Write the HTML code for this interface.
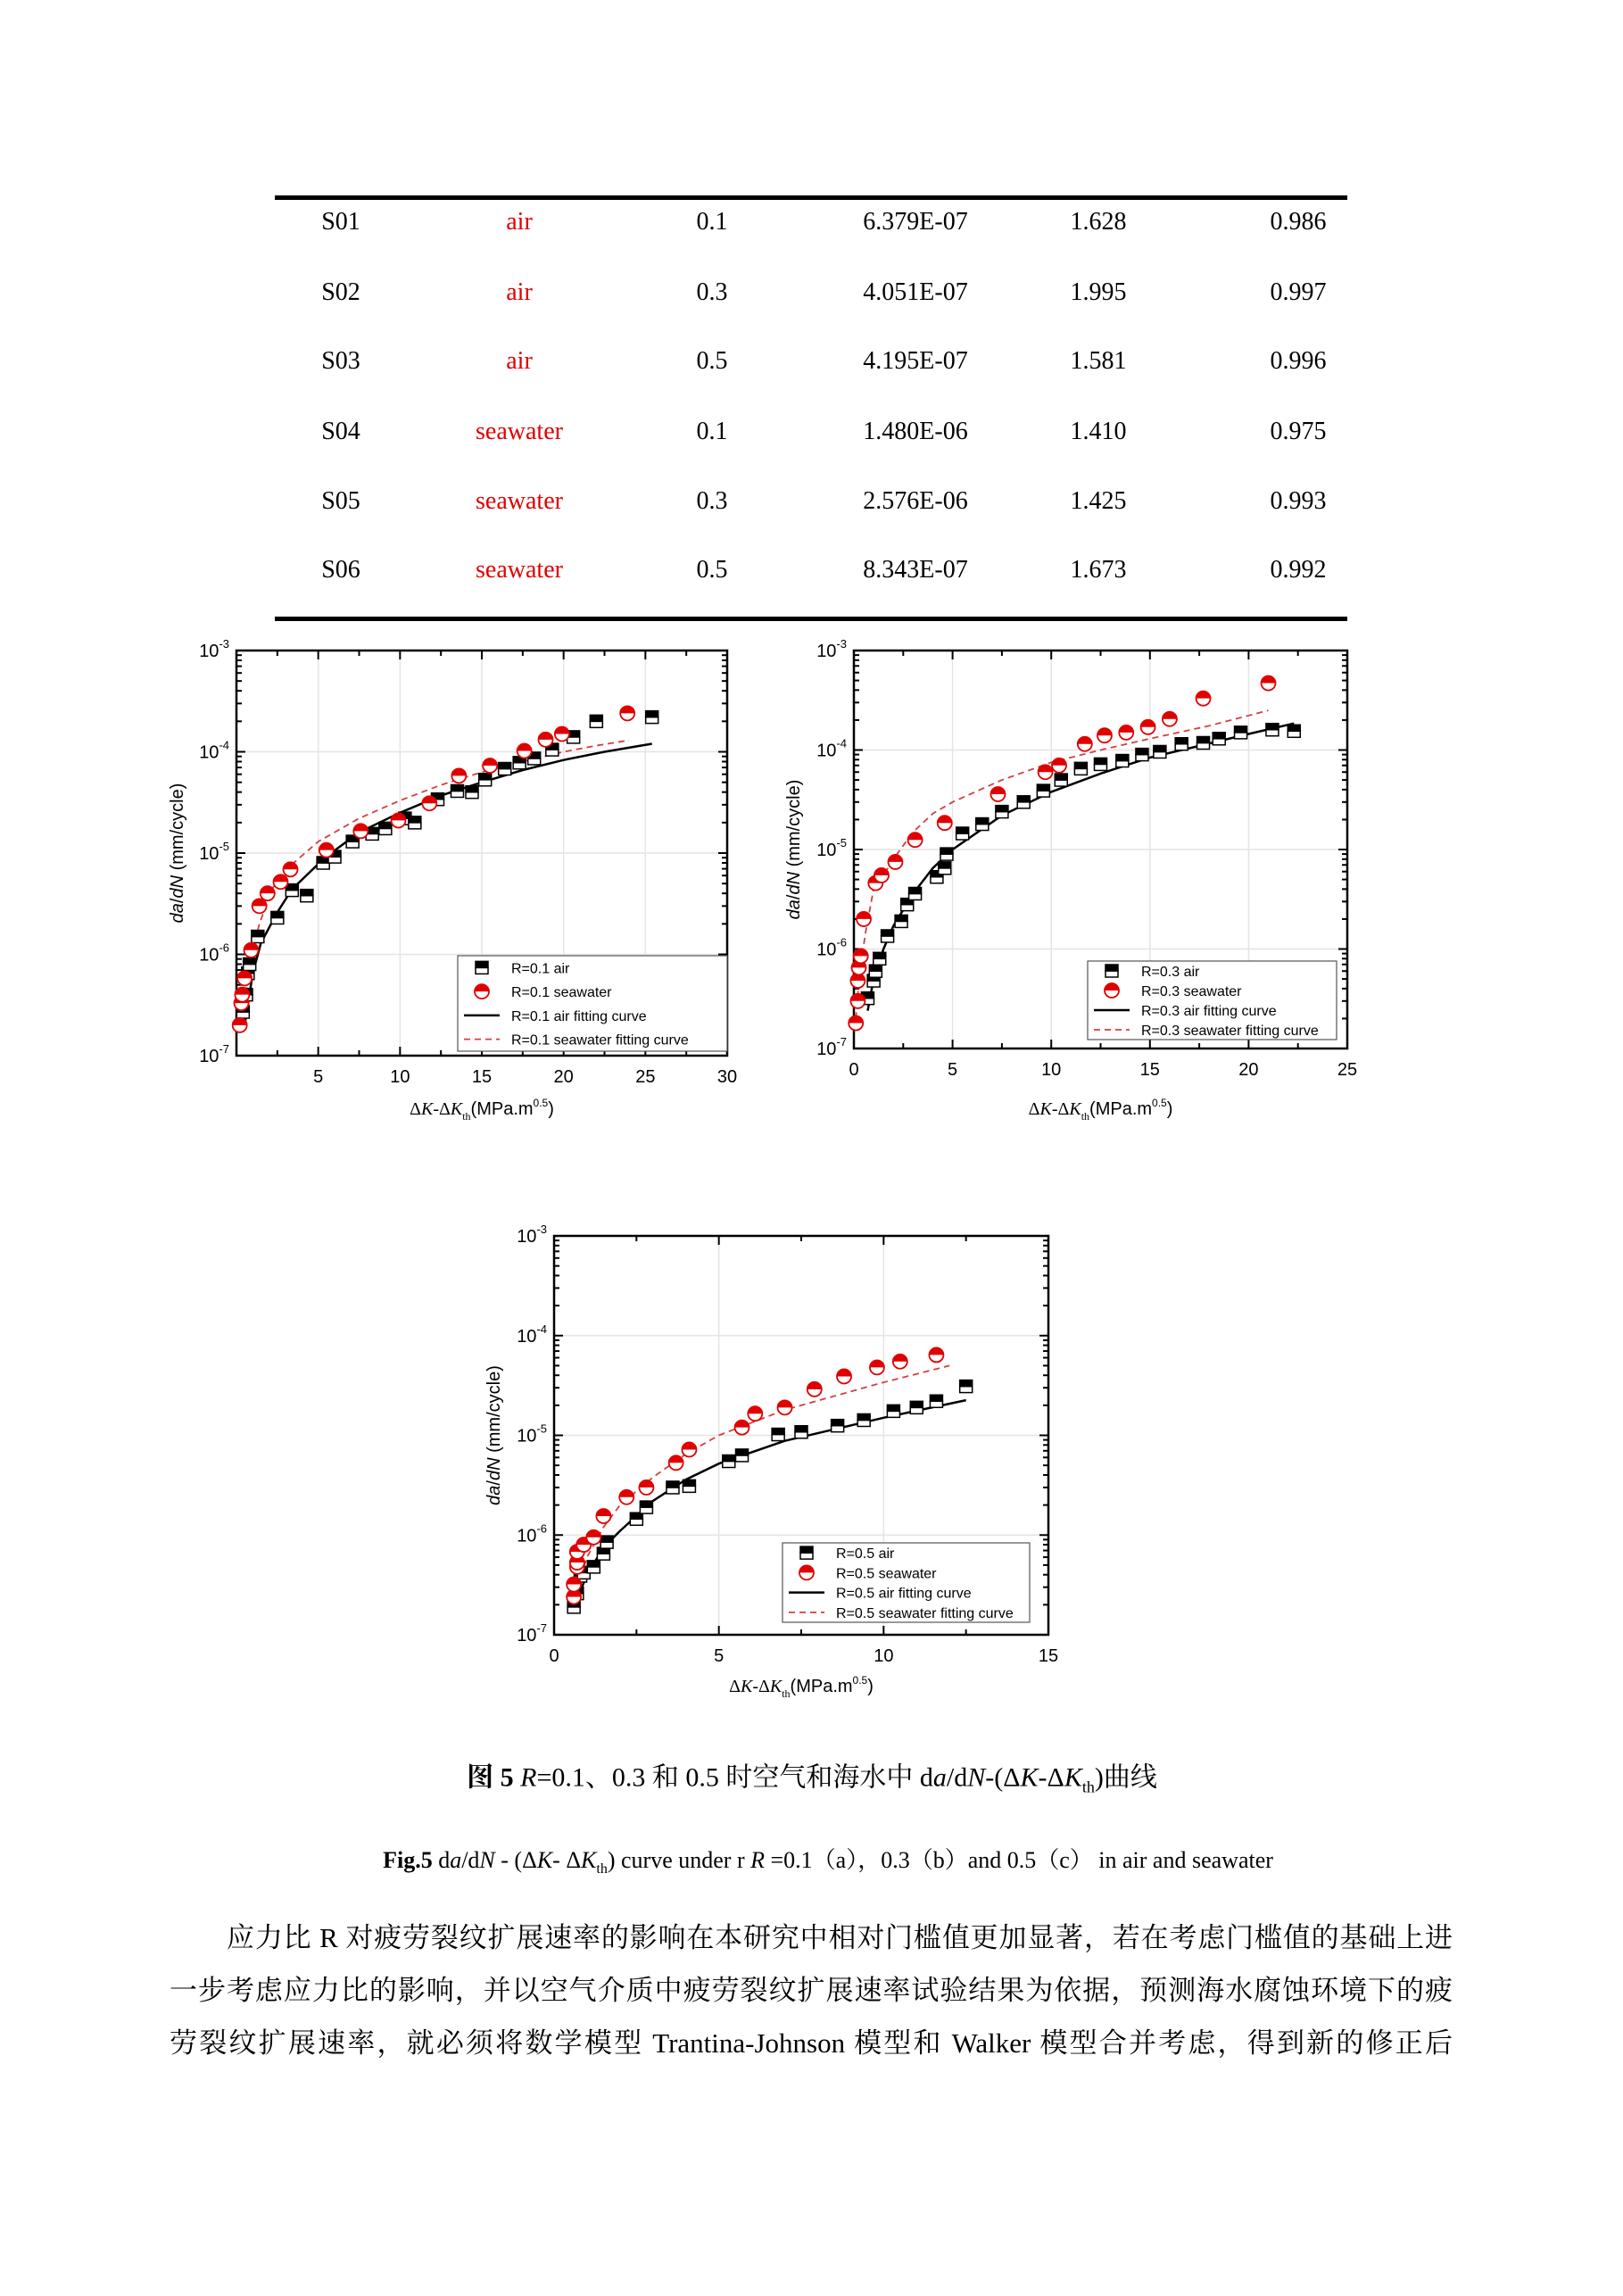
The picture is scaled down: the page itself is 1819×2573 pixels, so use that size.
<!DOCTYPE html>
<html><head><meta charset="utf-8">
<style>
body{margin:0;background:#fff;}
#page{position:relative;width:1819px;height:2573px;overflow:hidden;background:#fff;font-family:"Liberation Serif","Noto Serif CJK SC",serif;}
.t{position:absolute;font-size:28px;white-space:nowrap;transform:translate(-50%,-50%);}
.red{color:#e00000;}
.line{position:absolute;left:308px;width:1202px;height:5px;background:#000;}
.para{position:absolute;font-size:31px;white-space:nowrap;text-align:justify;text-align-last:justify;font-family:"Liberation Serif","Noto Serif CJK SC",serif;}
svg text{font-family:"Liberation Sans",sans-serif;}
</style></head><body>
<div id="page">
<div class="line" style="top:219px"></div>
<div class="line" style="top:691px"></div>
<div id="table"></div>

<svg id="charts" width="1819" height="2573" style="position:absolute;left:0;top:0"></svg>

<div class="t" style="left:910px;top:1990px;font-size:30px"><b>图 5</b> <i>R</i>=0.1、0.3 和 0.5 时空气和海水中 d<i>a</i>/d<i>N</i>-(Δ<i>K</i>-Δ<i>K</i><sub style="font-size:18px">th</sub>)曲线</div>
<div class="t" style="left:928px;top:2084px;font-size:26px"><b>Fig.5</b> d<i>a</i>/d<i>N</i> - (Δ<i>K</i>- Δ<i>K</i><sub style="font-size:16px">th</sub>) curve under r <i>R</i> =0.1（a），0.3（b）and 0.5（c） in air and seawater</div>
<div class="para" style="left:254px;top:2146px;width:1374px">应力比 R 对疲劳裂纹扩展速率的影响在本研究中相对门槛值更加显著，若在考虑门槛值的基础上进</div>
<div class="para" style="left:190px;top:2205px;width:1438px">一步考虑应力比的影响，并以空气介质中疲劳裂纹扩展速率试验结果为依据，预测海水腐蚀环境下的疲</div>
<div class="para" style="left:190px;top:2264px;width:1438px">劳裂纹扩展速率，就必须将数学模型 Trantina-Johnson 模型和 Walker 模型合并考虑，得到新的修正后</div>
</div>
<script>
// table
const rowsId=["S01","S02","S03","S04","S05","S06"];
const rowsMedium=["air","air","air","seawater","seawater","seawater"];
const rowsR=["0.1","0.3","0.5","0.1","0.3","0.5"];
const rowsC=["6.379E-07","4.051E-07","4.195E-07","1.480E-06","2.576E-06","8.343E-07"];
const rowsM=["1.628","1.995","1.581","1.410","1.425","1.673"];
const rowsR2=["0.986","0.997","0.996","0.975","0.993","0.992"];
(function(){
  const tb=document.getElementById('table');
  const ys=[249,328,405,484,562,639];
  const xs=[382,582,798,1026,1231,1455];
  const cols=[rowsId,rowsMedium,rowsR,rowsC,rowsM,rowsR2];
  const names=['specimen','medium','stress-ratio','coef-c','exponent-m','r-squared'];
  for(let i=0;i<6;i++)for(let c=0;c<6;c++){
    const d=document.createElement('div');d.className='t'+(c==1?' red':'');
    d.style.left=xs[c]+'px';d.style.top=ys[i]+'px';d.textContent=cols[c][i];
    
    
    tb.appendChild(d);
  }
})();

// chart a data
const aAirX=[0.4,0.6,0.7,0.8,1.3,2.5,3.4,4.3,5.3,6.0,7.1,8.3,9.1,10.3,10.9,12.3,13.5,14.4,15.2,16.4,17.3,18.2,19.3,20.6,22,25.4];
const aAirY=[2.7e-7,4e-7,6.5e-7,8e-7,1.5e-6,2.3e-6,4.3e-6,3.8e-6,8e-6,9.2e-6,1.3e-5,1.55e-5,1.75e-5,2.2e-5,2e-5,3.4e-5,4.1e-5,4e-5,5.3e-5,6.8e-5,7.8e-5,8.6e-5,1.05e-4,1.4e-4,2e-4,2.2e-4];
const aSeaX=[0.2,0.3,0.35,0.5,0.9,1.4,1.9,2.7,3.3,5.5,7.6,9.9,11.8,13.6,15.5,17.6,18.9,19.9,23.9];
const aSeaY=[2e-7,3.3e-7,4e-7,5.8e-7,1.1e-6,3e-6,4e-6,5.2e-6,6.9e-6,1.07e-5,1.65e-5,2.1e-5,3.1e-5,5.8e-5,7.3e-5,1.02e-4,1.32e-4,1.5e-4,2.4e-4];
const aFitAirX=[0.5,1,1.5,2.5,3.4,5.4,7.5,10,12.5,15,17.5,20,22.5,25.4];
const aFitAirY=[2e-7,6.5e-7,1.3e-6,2.6e-6,4.4e-6,9e-6,1.6e-5,2.5e-5,3.7e-5,5e-5,6.6e-5,8.3e-5,1e-4,1.2e-4];
const aFitSeaX=[0.3,0.8,1.4,2.2,3.3,5,7.5,10,12.5,15,17.5,20,22,24];
const aFitSeaY=[2e-7,8e-7,2e-6,4.5e-6,7.5e-6,1.3e-5,2.2e-5,3.3e-5,4.7e-5,6.3e-5,8e-5,1e-4,1.15e-4,1.3e-4];
// chart b data
const bAirX=[0.7,1.0,1.1,1.3,1.7,2.4,2.7,3.1,4.2,4.6,4.7,5.5,6.5,7.5,8.6,9.6,10.5,11.5,12.5,13.6,14.6,15.5,16.6,17.7,18.5,19.6,21.2,22.3];
const bAirY=[3.2e-7,4.8e-7,6e-7,8e-7,1.35e-6,1.9e-6,2.8e-6,3.6e-6,5.3e-6,6.5e-6,9e-6,1.45e-5,1.8e-5,2.4e-5,3e-5,3.9e-5,5e-5,6.5e-5,7.2e-5,7.8e-5,9e-5,9.6e-5,1.15e-4,1.18e-4,1.3e-4,1.5e-4,1.6e-4,1.55e-4];
const bSeaX=[0.1,0.2,0.2,0.25,0.35,0.5,1.1,1.4,2.1,3.1,4.6,7.3,9.7,10.4,11.7,12.7,13.8,14.9,16.0,17.7,21];
const bSeaY=[1.8e-7,3e-7,4.8e-7,6.5e-7,8.5e-7,2e-6,4.6e-6,5.5e-6,7.5e-6,1.25e-5,1.85e-5,3.6e-5,6e-5,7e-5,1.15e-4,1.4e-4,1.5e-4,1.7e-4,2.05e-4,3.3e-4,4.7e-4];
const bFitAirX=[0.7,1,1.5,2,3,4,5,7.5,10,12.5,15,17.5,20,22.3];
const bFitAirY=[2.4e-7,5e-7,1e-6,1.7e-6,3.6e-6,6.5e-6,1e-5,2.2e-5,3.8e-5,5.8e-5,8.4e-5,1.1e-4,1.45e-4,1.85e-4];
const bFitSeaX=[0.1,0.3,0.6,1,1.5,2,3,4,5,7.5,10,12.5,15,18,21];
const bFitSeaY=[2e-7,6e-7,1.5e-6,4e-6,5.5e-6,8e-6,1.5e-5,2.3e-5,3e-5,5e-5,7.5e-5,1e-4,1.3e-4,1.75e-4,2.5e-4];
// chart c data
const cAirX=[0.6,0.7,0.8,0.9,1.2,1.5,1.6,2.5,2.8,3.6,4.1,5.3,5.7,6.8,7.5,8.6,9.4,10.3,11,11.6,12.5];
const cAirY=[1.9e-7,2.6e-7,3.9e-7,4.2e-7,4.8e-7,6.5e-7,8.5e-7,1.45e-6,1.9e-6,3e-6,3.1e-6,5.5e-6,6.3e-6,1.02e-5,1.08e-5,1.25e-5,1.42e-5,1.75e-5,1.9e-5,2.2e-5,3.1e-5];
const cSeaX=[0.6,0.6,0.7,0.7,0.7,0.9,1.2,1.5,2.2,2.8,3.7,4.1,5.7,6.1,7.0,7.9,8.8,9.8,10.5,11.6];
const cSeaY=[2.4e-7,3.2e-7,4.8e-7,5.3e-7,6.8e-7,8e-7,9.5e-7,1.55e-6,2.4e-6,3e-6,5.3e-6,7.2e-6,1.2e-5,1.65e-5,1.9e-5,2.9e-5,3.9e-5,4.8e-5,5.5e-5,6.4e-5];
const cFitAirX=[0.6,1,1.5,2,3,4,5,7,10,12.5];
const cFitAirY=[1.9e-7,4e-7,7.5e-7,1.1e-6,2.2e-6,3.6e-6,5.2e-6,8.8e-6,1.5e-5,2.25e-5];
const cFitSeaX=[0.6,1,1.5,2,3,4,5,7,10,12];
const cFitSeaY=[2.4e-7,6e-7,1.2e-6,2e-6,3.8e-6,6.5e-6,1e-5,1.8e-5,3.4e-5,5e-5];

const aXTicks=[5,10,15,20,25,30];
const bXTicks=[0,5,10,15,20,25];
const cXTicks=[0,5,10,15];
const yExps=[-3,-4,-5,-6,-7];

const NS='http://www.w3.org/2000/svg';
const svg=document.getElementById('charts');
function mk(tag,attrs,parent){const e=document.createElementNS(NS,tag);for(const k in attrs)e.setAttribute(k,attrs[k]);(parent||svg).appendChild(e);return e;}

function chart(id,L,R,T,B,xmax,xticks,airX,airY,seaX,seaY,faX,faY,fsX,fsY,rlab,leg,xtY,ytX){
  const g=mk('g',{});
  
  
  const xs=v=>L+(R-L)*v/xmax;
  const ys=v=>B-(B-T)*(Math.log10(v)+7)/4;
  // grid
  xticks.forEach(t=>{if(t>0&&t<xmax)mk('line',{x1:xs(t),x2:xs(t),y1:T,y2:B,stroke:'#e4e4e4','stroke-width':1.5},g);});
  yExps.forEach(e=>{if(e>-7&&e<-3)mk('line',{x1:L,x2:R,y1:ys(Math.pow(10,e)),y2:ys(Math.pow(10,e)),stroke:'#e4e4e4','stroke-width':1.5},g);});
  mk('rect',{x:L,y:T,width:R-L,height:B-T,fill:'none',stroke:'#000','stroke-width':2.5},g);
  // y ticks
  for(let e=-7;e<-3;e++)for(let m=1;m<10;m++){const y=ys(m*Math.pow(10,e));const len=m==1?10:6;
    mk('line',{x1:L,x2:L+len,y1:y,y2:y,stroke:'#000','stroke-width':2},g);mk('line',{x1:R,x2:R-len,y1:y,y2:y,stroke:'#000','stroke-width':2},g);}
  yExps.forEach(e=>{const t=mk('text',{x:L-8,y:ys(Math.pow(10,e))+7,'font-size':20,'text-anchor':'end'},g);
    
    
    t.innerHTML='10<tspan dy="-10" font-size="13">'+e+'</tspan>';});
  // x ticks
  for(let v=0;v<=xmax;v+=2.5){const x=xs(v);const len=(v%5==0)?10:6;
    mk('line',{x1:x,x2:x,y1:B,y2:B-len,stroke:'#000','stroke-width':2},g);mk('line',{x1:x,x2:x,y1:T,y2:T+len,stroke:'#000','stroke-width':2},g);}
  xticks.forEach(v=>{const t=mk('text',{x:xs(v),y:B+30,'font-size':20,'text-anchor':'middle'},g);t.textContent=v;
    
    });
  // axis titles
  const xt=mk('text',{x:(L+R)/2,y:xtY,'font-size':20,'text-anchor':'middle'},g);
  
  
  xt.innerHTML='<tspan font-family="Liberation Serif">Δ<tspan font-style="italic">K</tspan>-Δ<tspan font-style="italic">K</tspan></tspan><tspan dy="6" font-size="12" font-family="Liberation Serif">th</tspan><tspan dy="-6">(MPa.m</tspan><tspan dy="-9" font-size="12">0.5</tspan><tspan dy="9">)</tspan>';
  const yt=mk('text',{x:0,y:0,'font-size':20,'text-anchor':'middle',transform:'translate('+ytX+','+(T+B)/2+') rotate(-90)','font-family':'Liberation Serif'},g);
  
  
  yt.innerHTML='<tspan font-style="italic">da</tspan>/<tspan font-style="italic">dN</tspan> (mm/cycle)';
  // fits
  const path=(X,Y)=>X.map((x,i)=>(i?'L':'M')+xs(x).toFixed(1)+' '+ys(Y[i]).toFixed(1)).join(' ');
  const fs=mk('path',{d:path(fsX,fsY),fill:'none',stroke:'#d04040','stroke-width':1.8,'stroke-dasharray':'7 5'},g);
  
  
  const fa=mk('path',{d:path(faX,faY),fill:'none',stroke:'#000','stroke-width':2.5},g);
  
  
  // markers
  function sq(x,y,p){mk('rect',{x:x-7,y:y,width:14,height:7,fill:'#fff',stroke:'#000','stroke-width':1.5},p);mk('rect',{x:x-7,y:y-7,width:14,height:7,fill:'#000',stroke:'#000','stroke-width':1.5},p);}
  function ci(x,y,p){mk('circle',{cx:x,cy:y,r:8,fill:'#fff',stroke:'#e00000','stroke-width':1.8},p);mk('path',{d:`M${x-8} ${y} A8 8 0 0 1 ${x+8} ${y} Z`,fill:'#e00000'},p);}
  airX.forEach((x,i)=>{const m=mk('g',{},g);
    sq(xs(x),ys(airY[i]),m);});
  seaX.forEach((x,i)=>{const m=mk('g',{},g);
    ci(xs(x),ys(seaY[i]),m);});
  // legend
  const [lx1,ly1,lx2,ly2]=leg;
  const lg=mk('g',{},g);
  
  mk('rect',{x:lx1,y:ly1,width:lx2-lx1,height:ly2-ly1,fill:'#fff',stroke:'#555','stroke-width':1.2},lg);
  const dy=(ly2-ly1)/4; const labels=[rlab+' air',rlab+'  seawater',rlab+' air fitting curve',rlab+'  seawater fitting curve'];
  labels.forEach((s,i)=>{const cy=ly1+dy*(i+0.5);const sx=lx1+27;
    if(i==0)sq(sx,cy,lg);else if(i==1)ci(sx,cy,lg);
    else if(i==2)mk('line',{x1:sx-20,x2:sx+20,y1:cy,y2:cy,stroke:'#000','stroke-width':2.5},lg);
    else mk('line',{x1:sx-20,x2:sx+20,y1:cy,y2:cy,stroke:'#d04040','stroke-width':1.8,'stroke-dasharray':'7 5'},lg);
    const t=mk('text',{x:lx1+60,y:cy+6,'font-size':16},lg);t.textContent=s;
    
    });
}
chart('a',265,815,729,1183,30,aXTicks,aAirX,aAirY,aSeaX,aSeaY,aFitAirX,aFitAirY,aFitSeaX,aFitSeaY,'R=0.1',[513,1071,815,1178],1249,205);
chart('b',957,1510,729,1175,25,bXTicks,bAirX,bAirY,bSeaX,bSeaY,bFitAirX,bFitAirY,bFitSeaX,bFitSeaY,'R=0.3',[1219,1077,1498,1165],1249,896);
chart('c',621,1175,1385,1832,15,cXTicks,cAirX,cAirY,cSeaX,cSeaY,cFitAirX,cFitAirY,cFitSeaX,cFitSeaY,'R=0.5',[877,1729,1154,1818],1896,560);
</script>
</body></html>
